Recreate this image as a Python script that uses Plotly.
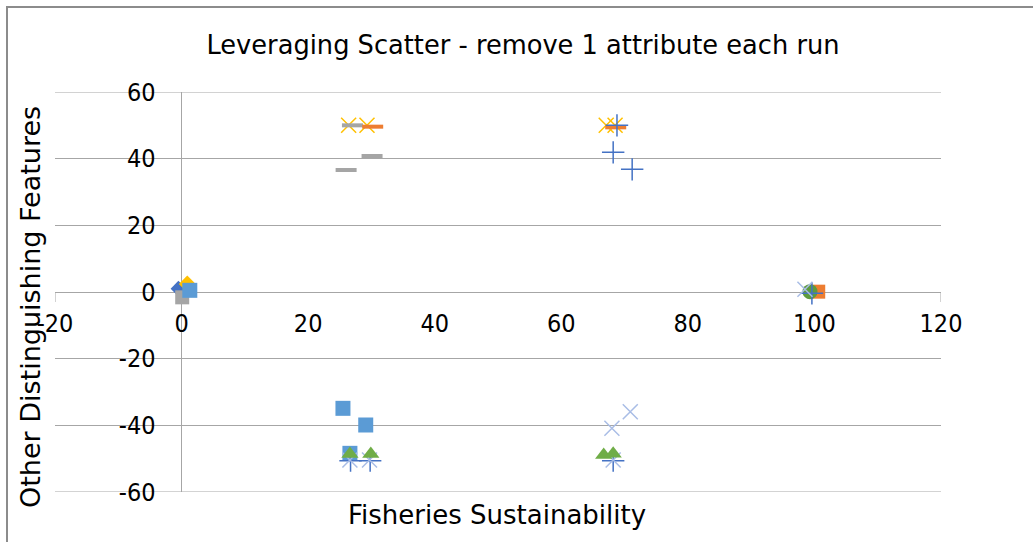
import plotly.graph_objects as go

# ---- data ----
x_range = [-20, 120]
y_range = [-60, 60]
x_tick_vals = [-20, 0, 20, 40, 60, 80, 100, 120]
x_tick_text = ["-20", "0", "20", "40", "60", "80", "100", "120"]
y_tick_vals = [-60, -40, -20, 0, 20, 40, 60]
y_tick_text = ["-60", "-40", "-20", "0", "20", "40", "60"]

blue_diamond_x = [-0.5]
blue_diamond_y = [1.0]

orange_square_x = [100.6]
orange_square_y = [0.1]

gray_square_x = [0.1]
gray_square_y = [-1.6]

yellow_diamond_x = [0.9]
yellow_diamond_y = [2.4]

lightblue_square_x = [1.3, 25.5, 29.1, 26.6]
lightblue_square_y = [0.5, -34.9, -39.9, -48.4]

blue_plus_low_x = [26.7, 29.8, 68.2]
blue_plus_low_y = [-50.6, -50.6, -50.6]

paleblue_x_low_x = [26.6, 29.7, 68.2]
paleblue_x_low_y = [-50.4, -50.4, -50.4]

green_triangle_x = [26.6, 29.9, 66.7, 68.2]
green_triangle_y = [-48.6, -48.6, -48.9, -48.5]

green_circle_x = [99.3]
green_circle_y = [0.1]

yellow_x_x = [26.4, 29.3, 67.1, 68.5]
yellow_x_y = [50.0, 50.0, 50.0, 50.0]

gray_dash_x = [27.0, 30.1, 26.0]
gray_dash_y = [50.0, 40.8, 36.6]

orange_dash_x = [30.2, 68.6]
orange_dash_y = [49.6, 49.4]

blue_plus_x = [68.8, 68.2, 71.2, 99.6]
blue_plus_y = [50.0, 41.9, 36.8, -0.4]

paleblue_x_x = [98.5, 70.9, 68.0]
paleblue_x_y = [0.8, -35.9, -40.9]

title_text = "Leveraging Scatter - remove 1 attribute each run"
x_title = "Fisheries Sustainability"
y_title = "Other Distinguishing Features"

TICK_FONT = "DejaVu Sans Condensed, DejaVu Sans, sans-serif"
TITLE_FONT = "DejaVu Sans, sans-serif"
GRID = "#a6a6a6"

fig = go.Figure()


def add(xs, ys, symbol, color, size, line_width=0):
    marker = dict(symbol=symbol, size=size, color=color,
                  line=dict(width=line_width, color=color))
    fig.add_trace(go.Scatter(x=xs, y=ys, mode="markers", marker=marker,
                             showlegend=False, hoverinfo="x+y", cliponaxis=False))


add(blue_diamond_x, blue_diamond_y, "diamond", "#4472C4", 12)
add(orange_square_x, orange_square_y, "square", "#ED7D31", 14)
add(gray_square_x, gray_square_y, "square", "#A5A5A5", 14)
add(yellow_diamond_x, yellow_diamond_y, "diamond", "#FFC000", 13)
add(lightblue_square_x, lightblue_square_y, "square", "#5B9BD5", 15)
add(blue_plus_low_x, blue_plus_low_y, "cross-thin-open", "#4472C4", 16, 1.5)
add(paleblue_x_low_x, paleblue_x_low_y, "x-thin-open", "#A9BDE6", 15, 1.5)
add(green_triangle_x, green_triangle_y, "triangle-up", "#70AD47", 15)
add(green_circle_x, green_circle_y, "circle", "#5E9B3E", 15)
add(yellow_x_x, yellow_x_y, "x-thin-open", "#FFC000", 15, 1.5)
add(gray_dash_x, gray_dash_y, "line-ew-open", "#A5A5A5", 15, 4)
add(orange_dash_x, orange_dash_y, "line-ew-open", "#ED7D31", 15, 4)
add(blue_plus_x, blue_plus_y, "cross-thin-open", "#4472C4", 16, 1.5)
add(paleblue_x_x, paleblue_x_y, "x-thin-open", "#A9BDE6", 15, 1.5)

L, R, T, B = 55, 92, 92, 50
W, H = 1033, 542
PW, PH = W - L - R, H - T - B

fig.update_layout(
    width=W, height=H,
    margin=dict(l=L, r=R, t=T, b=B),
    paper_bgcolor="white", plot_bgcolor="white",
    font=dict(family=TICK_FONT, color="#000000"),
    title=dict(text=title_text, x=523 / W, xanchor="center",
               y=1 - 45 / H, yanchor="middle",
               font=dict(family=TITLE_FONT, size=25.7, color="#000000")),
    xaxis=dict(range=x_range, tickvals=x_tick_vals, ticktext=x_tick_text,
               showgrid=False, zeroline=True, zerolinecolor=GRID, zerolinewidth=1,
               showline=False,
               anchor="free", position=(0 - y_range[0]) / (y_range[1] - y_range[0]),
               ticks="", ticklabelstandoff=14,
               tickfont=dict(family=TICK_FONT, size=25, color="#000000")),
    yaxis=dict(range=y_range,
               tickvals=y_tick_vals, ticktext=y_tick_text,
               showgrid=True, gridcolor=GRID, gridwidth=1,
               zeroline=True, zerolinecolor=GRID, zerolinewidth=1,
               showline=False,
               anchor="free", position=(0 - x_range[0]) / (x_range[1] - x_range[0]),
               ticks="", ticklabelstandoff=26,
               tickfont=dict(family=TICK_FONT, size=25, color="#000000")),
    annotations=[
        dict(text=x_title, xref="paper", yref="paper",
             x=(497 - L) / PW, y=(H - B - 515) / PH,
             xanchor="center", yanchor="middle", showarrow=False,
             font=dict(family=TITLE_FONT, size=26, color="#000000")),
        dict(text=y_title, xref="paper", yref="paper",
             x=(30 - L) / PW, y=(H - B - 307) / PH,
             xanchor="center", yanchor="middle", showarrow=False, textangle=-90,
             font=dict(family=TITLE_FONT, size=27, color="#000000")),
    ],
)

shapes = []
# gridlines at the ends of the y range
for yv in y_range:
    shapes.append(dict(type="line", xref="paper", yref="y", x0=0, x1=1,
                       y0=yv, y1=yv, line=dict(color=GRID, width=1), layer="below"))
# small end tick marks on the x axis
for xv in x_range:
    shapes.append(dict(type="line", xref="x", yref="paper", x0=xv, x1=xv,
                       y0=0.5, y1=0.5 - 10 / PH,
                       line=dict(color=GRID, width=1)))
# chart outline
shapes.append(dict(type="rect", xref="paper", yref="paper",
                   x0=(7 - L) / PW, x1=1.3,
                   y0=-0.3, y1=(H - B - 7) / PH,
                   line=dict(color="#8c8c8c", width=2), fillcolor="rgba(0,0,0,0)",
                   layer="below"))
fig.update_layout(shapes=shapes)

fig.write_html("out.html")
